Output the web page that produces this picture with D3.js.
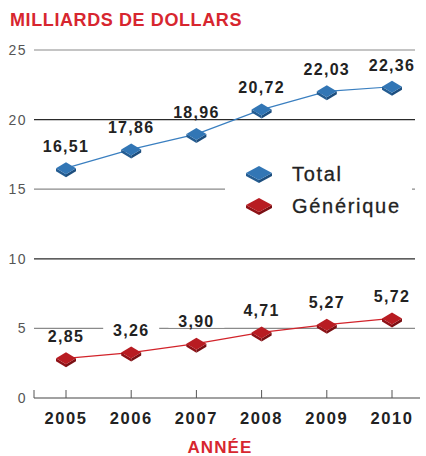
<!DOCTYPE html>
<meta charset="utf-8">
<title>Milliards de dollars</title>
<style>
body { margin: 0; background: #fff; }
svg text { font-family: 'Liberation Sans', Arial, sans-serif; }
</style>
<body>
<script src="https://d3js.org/d3.v7.min.js"></script>
<script>
// data
var years = ["2005", "2006", "2007", "2008", "2009", "2010"];
var total = [16.51, 17.86, 18.96, 20.72, 22.03, 22.36];
var generique = [2.85, 3.26, 3.90, 4.71, 5.27, 5.72];
var yTicks = [0, 5, 10, 15, 20, 25];
var seriesNames = ["Total", "Générique"];

var width = 426, height = 456;
var fr = d3.format(".2f");
function fmt(v) { return fr(v).replace(".", ","); }

var svg = d3.select("body").append("svg")
    .attr("width", width)
    .attr("height", height);

var x = d3.scalePoint().domain(years).range([66, 392]);
var y = d3.scaleLinear().domain([0, 25]).range([398, 50]);

// title
svg.append("text")
    .attr("x", 10).attr("y", 26)
    .attr("fill", "#d7262f")
    .attr("font-size", 18)
    .attr("font-weight", "bold")
    .attr("letter-spacing", 0.6)
    .text("MILLIARDS DE DOLLARS");

// gridlines
var grid = svg.append("g");
grid.selectAll("line")
    .data(yTicks.filter(function(d) { return d > 0; }))
    .enter().append("line")
    .attr("x1", 34).attr("x2", 415)
    .attr("y1", function(d) { return y(d); })
    .attr("y2", function(d) { return y(d); })
    .attr("stroke", function(d) { return d % 10 == 0 ? "#2a2a2a" : "#8a8a8a"; })
    .attr("stroke-width", 1.2);

// y tick labels
svg.append("g").selectAll("text")
    .data(yTicks)
    .enter().append("text")
    .attr("x", 27)
    .attr("y", function(d) { return y(d); })
    .attr("dy", "0.36em")
    .attr("text-anchor", "end")
    .attr("font-size", 14)
    .attr("letter-spacing", 1.5)
    .attr("fill", "#555")
    .text(function(d) { return d; });

// x axis
var xa = svg.append("g");
xa.append("line")
    .attr("x1", 34).attr("x2", 420)
    .attr("y1", y(0)).attr("y2", y(0))
    .attr("stroke", "#444").attr("stroke-width", 1.2);
xa.append("line")
    .attr("x1", 34).attr("x2", 34)
    .attr("y1", y(0) - 8).attr("y2", y(0))
    .attr("stroke", "#555").attr("stroke-width", 1);
xa.selectAll("line.tick")
    .data(years)
    .enter().append("line")
    .attr("class", "tick")
    .attr("x1", function(d) { return x(d); })
    .attr("x2", function(d) { return x(d); })
    .attr("y1", y(0) - 8).attr("y2", y(0))
    .attr("stroke", "#555").attr("stroke-width", 1);
xa.selectAll("text")
    .data(years)
    .enter().append("text")
    .attr("x", function(d) { return x(d); })
    .attr("y", 424)
    .attr("text-anchor", "middle")
    .attr("font-size", 16.5)
    .attr("font-weight", "bold")
    .attr("letter-spacing", 1.6)
    .attr("fill", "#222")
    .text(function(d) { return d; });

svg.append("text")
    .attr("x", 220).attr("y", 453)
    .attr("text-anchor", "middle")
    .attr("fill", "#d7262f")
    .attr("font-size", 17)
    .attr("font-weight", "bold")
    .attr("letter-spacing", 1.1)
    .text("ANNÉE");

// 3d diamond marker
function marker(g, cx, cy, w, h, t, top, side, dark) {
    g.append("path")
        .attr("d", "M" + (cx - w) + "," + cy + " L" + cx + "," + (cy + h) + " L" + cx + "," + (cy + h + t) +
            " L" + (cx - w) + "," + (cy + t) + "Z")
        .attr("fill", side);
    g.append("path")
        .attr("d", "M" + (cx + w) + "," + cy + " L" + cx + "," + (cy + h) + " L" + cx + "," + (cy + h + t) +
            " L" + (cx + w) + "," + (cy + t) + "Z")
        .attr("fill", dark);
    g.append("path")
        .attr("d", "M" + (cx - w) + "," + cy + " L" + cx + "," + (cy - h) + " L" + (cx + w) + "," + cy +
            " L" + cx + "," + (cy + h) + "Z")
        .attr("fill", top);
}

var series = [
    { name: seriesNames[0], values: total, line: "#3a7fc0", top: "#3276b5", side: "#245c91", dark: "#1d4e7e" },
    { name: seriesNames[1], values: generique, line: "#d2232a", top: "#b81c22", side: "#8f1217", dark: "#7a0f13" }
];

// value labels with white backgrounds (they hide the gridlines)
var labels = svg.append("g");
series.forEach(function(s) {
    s.values.forEach(function(v, i) {
        var lx = x(years[i]), ly = y(v) - 22;
        labels.append("rect")
            .attr("x", lx - 28).attr("y", ly - 6)
            .attr("width", 56).attr("height", 12)
            .attr("fill", "#fff");
    });
});
series.forEach(function(s) {
    s.values.forEach(function(v, i) {
        labels.append("text")
            .attr("x", x(years[i]))
            .attr("y", y(v) - 22)
            .attr("dy", "0.36em")
            .attr("text-anchor", "middle")
            .attr("font-size", 16)
            .attr("font-weight", "bold")
            .attr("letter-spacing", 1.3)
            .attr("fill", "#222")
            .text(fmt(v));
    });
});

// lines and markers
var line = d3.line()
    .x(function(d, i) { return x(years[i]); })
    .y(function(d) { return y(d); });

series.forEach(function(s) {
    svg.append("path")
        .datum(s.values)
        .attr("d", line)
        .attr("fill", "none")
        .attr("stroke", s.line)
        .attr("stroke-width", 1.2);
    var mg = svg.append("g");
    s.values.forEach(function(v, i) {
        marker(mg, x(years[i]), y(v), 10, 6, 3, s.top, s.side, s.dark);
    });
});

// legend
var lg = svg.append("g");
lg.append("rect")
    .attr("x", 225).attr("y", 158)
    .attr("width", 187).attr("height", 66)
    .attr("fill", "#fff");
series.forEach(function(s, i) {
    var ly = 173 + i * 32;
    marker(lg, 259, ly, 13, 7, 3, s.top, s.side, s.dark);
    lg.append("text")
        .attr("x", 292).attr("y", ly + 1)
        .attr("dy", "0.36em")
        .attr("font-size", 20)
        .attr("letter-spacing", 1.7)
        .attr("fill", "#222")
        .attr("stroke", "#222")
        .attr("stroke-width", 0.3)
        .text(s.name);
});
</script>
</body>
</html>
